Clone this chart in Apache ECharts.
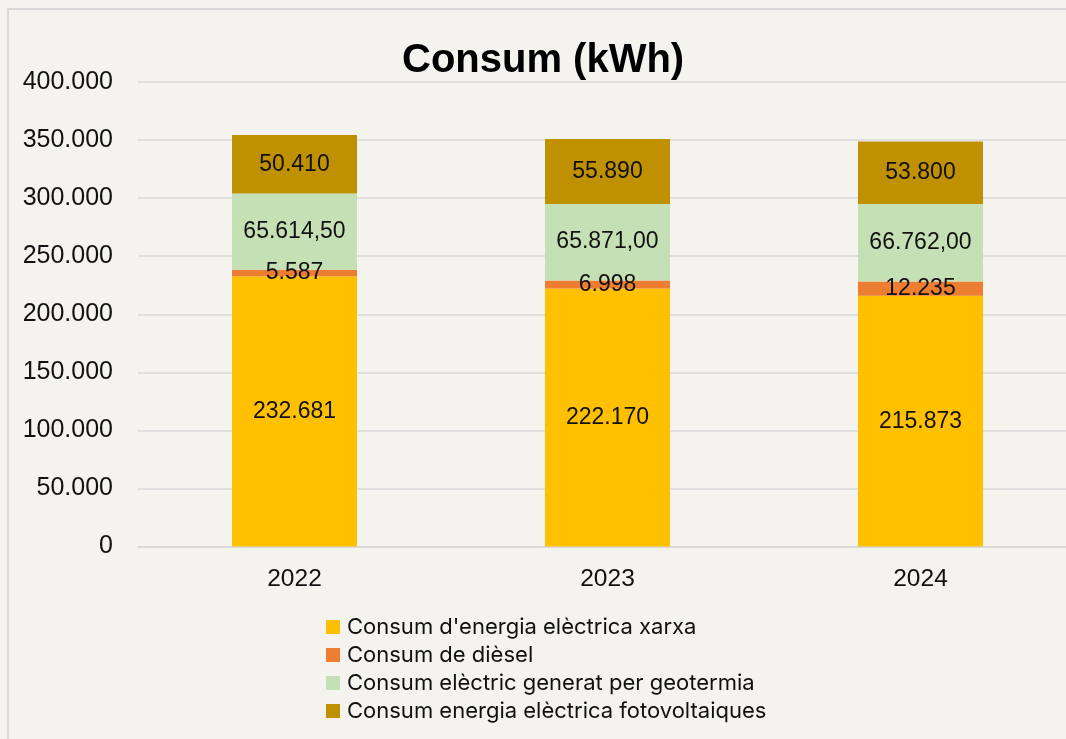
<!DOCTYPE html>
<html>
<head>
<meta charset="utf-8">
<script src="https://cdn.jsdelivr.net/npm/echarts@6/dist/echarts.min.js"></script>
<style>
html,body{margin:0;padding:0;background:#F4F3ED;overflow:hidden;width:1066px;height:739px;}
#chart{width:1077px;height:739px;}
</style>
</head>
<body>
<div id="chart"></div>
<script>
const categories = ['2022', '2023', '2024'];
const seriesNames = [
  "Consum d'energia elèctrica xarxa",
  'Consum de dièsel',
  'Consum elèctric generat per geotermia',
  'Consum energia elèctrica fotovoltaiques'
];
const xarxa = [232681, 222170, 215873];
const diesel = [5587, 6998, 12235];
const geotermia = [65614.5, 65871, 66762];
const fotovoltaiques = [50410, 55890, 53800];
const yTicks = { min: 0, max: 400000, interval: 50000 };
const labelDecimals = [0, 0, 2, 0];

const colors = ['#FFC000', '#ED7D31', '#C5E0B4', '#BF9000'];

function fmt(v, dec) {
  const fixed = Number(v).toFixed(dec);
  const parts = fixed.split('.');
  const intPart = parts[0].replace(/\B(?=(\d{3})+(?!\d))/g, '.');
  return parts.length > 1 ? intPart + ',' + parts[1] : intPart;
}

const dataSets = [xarxa, diesel, geotermia, fotovoltaiques];

const chart = echarts.init(document.getElementById('chart'));
chart.setOption({
  backgroundColor: '#F4F3ED',
  animation: false,
  title: {
    text: 'Consum (kWh)',
    left: 397,
    top: 36,
    textStyle: { fontFamily: 'Liberation Sans', fontWeight: 'bold', fontSize: 40, color: '#000' }
  },
  graphic: [{
    type: 'rect',
    shape: { x: 8, y: 9, width: 1200, height: 900 },
    style: { fill: 'none', stroke: '#D9D9D9', lineWidth: 2 },
    silent: true
  }],
  legend: {
    orient: 'vertical',
    left: 326,
    top: 616,
    height: 200,
    padding: 0,
    itemWidth: 14,
    itemHeight: 14,
    itemGap: 6,
    icon: 'rect',
    textStyle: { fontFamily: 'Inter', fontSize: 22, color: '#111', padding: [0, 0, 0, 2] },
    data: seriesNames
  },
  grid: { left: 138, top: 82, right: 0, bottom: 192.5, containLabel: false },
  xAxis: {
    type: 'category',
    data: categories,
    axisTick: { show: false },
    axisLine: { lineStyle: { color: '#D9D9D9', width: 1.5 } },
    axisLabel: { fontFamily: 'Liberation Sans', fontSize: 24.5, color: '#111', margin: 20 }
  },
  yAxis: {
    type: 'value',
    min: yTicks.min,
    max: yTicks.max,
    interval: yTicks.interval,
    axisLine: { show: false },
    axisTick: { show: false },
    splitLine: { lineStyle: { color: '#D9D9D9', width: 1.5 } },
    axisLabel: {
      fontFamily: 'Liberation Sans', fontSize: 25, color: '#111', margin: 25,
      formatter: v => fmt(v, 0)
    }
  },
  series: dataSets.map((d, i) => ({
    name: seriesNames[i],
    type: 'bar',
    stack: 'total',
    barWidth: 125,
    data: d,
    itemStyle: { color: colors[i] },
    label: {
      show: true,
      position: 'inside',
      fontFamily: 'Liberation Sans',
      fontSize: 23,
      color: '#111',
      formatter: p => fmt(p.value, labelDecimals[i])
    }
  }))
});
</script>
</body>
</html>
